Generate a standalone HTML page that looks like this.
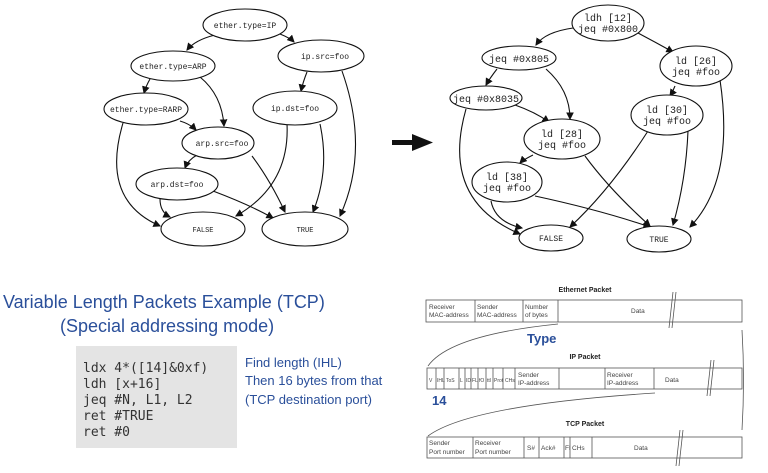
<!DOCTYPE html>
<html><head><meta charset="utf-8"><style>
html,body{margin:0;padding:0;background:#fff;}
svg{display:block}
.n{font-family:"Liberation Mono",monospace;font-size:9px;fill:#222;text-anchor:middle}
.h{font-family:"Liberation Sans",sans-serif;fill:#2a4f9a}
.s{font-family:"Liberation Sans",sans-serif;font-size:6.5px;fill:#444}
.t{font-family:"Liberation Sans",sans-serif;font-size:7px;font-weight:bold;fill:#222;text-anchor:middle}
</style></head><body>
<svg width="768" height="473" viewBox="0 0 768 473" xmlns="http://www.w3.org/2000/svg">
<defs><marker id="a" markerWidth="7" markerHeight="7" refX="6" refY="3.5" orient="auto"><path d="M0,0L7,3.5L0,7z" fill="#111"/></marker></defs>
<g fill="none" stroke="#111" stroke-width="1.1">
<g marker-end="url(#a)">
<path d="M215,35 Q195,40 187,50"/>
<path d="M280,34 Q290,38 294,42"/>
<path d="M150,79 Q146,86 144,93"/>
<path d="M200,77 Q222,95 224,126"/>
<path d="M180,121 Q190,124 196,130"/>
<path d="M307,72 Q303,82 301,91"/>
<path d="M342,71 Q370,150 340,216"/>
<path d="M197,155 Q188,160 185,168"/>
<path d="M123,123 Q100,200 160,226"/>
<path d="M160,199 Q160,212 170,217"/>
<path d="M213,191 Q250,205 273,218"/>
<path d="M252,156 Q270,180 285,212"/>
<path d="M287,124 Q290,185 236,216"/>
<path d="M320,124 Q330,170 313,212"/>
<path d="M573,28 Q545,32 536,45"/>
<path d="M638,33 Q655,42 673,52"/>
<path d="M497,69 Q490,78 486,85"/>
<path d="M546,69 Q570,90 570,119"/>
<path d="M515,105 Q535,112 549,122"/>
<path d="M675,86 Q672,93 670,96"/>
<path d="M720,80 Q735,180 690,227"/>
<path d="M533,155 Q523,160 520,163"/>
<path d="M466,109 Q440,200 520,234"/>
<path d="M491,201 Q495,222 522,228"/>
<path d="M535,196 Q600,210 650,227"/>
<path d="M585,156 Q610,190 650,226"/>
<path d="M648,131 Q610,190 570,227"/>
<path d="M688,131 Q686,180 673,225"/>
</g>
<g fill="#fff">
<ellipse cx="245" cy="25" rx="42" ry="16"/>
<ellipse cx="321" cy="56" rx="43" ry="16"/>
<ellipse cx="173" cy="66" rx="42" ry="15"/>
<ellipse cx="146" cy="109" rx="42" ry="16"/>
<ellipse cx="295" cy="108" rx="42" ry="17"/>
<ellipse cx="218" cy="143" rx="36" ry="16"/>
<ellipse cx="177" cy="184" rx="41" ry="16"/>
<ellipse cx="203" cy="229" rx="42" ry="17"/>
<ellipse cx="305" cy="229" rx="43" ry="17"/>
<ellipse cx="608" cy="23" rx="36" ry="18"/>
<ellipse cx="519" cy="58" rx="37" ry="12"/>
<ellipse cx="696" cy="66" rx="36" ry="20"/>
<ellipse cx="486" cy="98" rx="36" ry="12"/>
<ellipse cx="667" cy="115" rx="36" ry="20"/>
<ellipse cx="562" cy="139" rx="38" ry="20"/>
<ellipse cx="507" cy="182" rx="35" ry="20"/>
<ellipse cx="551" cy="238" rx="32" ry="13"/>
<ellipse cx="659" cy="239" rx="32" ry="13"/>
</g>
</g>
<g class="n">
<text x="245" y="28" font-size="8">ether.type=IP</text>
<text x="325" y="59" font-size="8">ip.src=foo</text>
<text x="173" y="69" font-size="8">ether.type=ARP</text>
<text x="146" y="112" font-size="8">ether.type=RARP</text>
<text x="295" y="111" font-size="8">ip.dst=foo</text>
<text x="222" y="146" font-size="8">arp.src=foo</text>
<text x="177" y="187" font-size="8">arp.dst=foo</text>
<text x="203" y="232" font-size="7">FALSE</text>
<text x="305" y="232" font-size="7">TRUE</text>
</g>
<g class="n">
<text x="608" y="21" font-size="10">ldh [12]</text><text x="608" y="32" font-size="10">jeq #0x800</text>
<text x="519" y="62" font-size="10">jeq #0x805</text>
<text x="696" y="64" font-size="10">ld [26]</text><text x="696" y="75" font-size="10">jeq #foo</text>
<text x="486" y="102" font-size="10">jeq #0x8035</text>
<text x="667" y="113" font-size="10">ld [30]</text><text x="667" y="124" font-size="10">jeq #foo</text>
<text x="562" y="137" font-size="10">ld [28]</text><text x="562" y="148" font-size="10">jeq #foo</text>
<text x="507" y="180" font-size="10">ld [38]</text><text x="507" y="191" font-size="10">jeq #foo</text>
<text x="551" y="241" font-size="8">FALSE</text>
<text x="659" y="242" font-size="8">TRUE</text>
</g>
<rect x="392" y="140" width="22" height="5" fill="#111"/>
<path d="M412,134 L433,142.5 L412,151z" fill="#111"/>
<text class="h" x="3" y="308" font-size="18">Variable Length Packets Example (TCP)</text>
<text class="h" x="60" y="332" font-size="18">(Special addressing mode)</text>
<rect x="76" y="346" width="161" height="102" fill="#e4e4e4"/>
<g font-family="'DejaVu Sans Mono','Liberation Mono',monospace" font-size="13" fill="#333">
<text x="83" y="372">ldx 4*([14]&amp;0xf)</text>
<text x="83" y="388">ldh [x+16]</text>
<text x="83" y="404">jeq #N, L1, L2</text>
<text x="83" y="420">ret #TRUE</text>
<text x="83" y="436">ret #0</text>
</g>
<text class="h" x="245" y="367" font-size="13">Find length (IHL)</text>
<text class="h" x="245" y="385" font-size="13">Then 16 bytes from that</text>
<text class="h" x="245" y="404" font-size="13">(TCP destination port)</text>
<g fill="none" stroke="#555" stroke-width="0.8">
<rect x="426" y="300" width="316" height="22"/>
<path d="M475,300V322M523,300V322M558,300V322"/>
<rect x="427" y="368" width="315" height="21"/>
<path d="M436,368V389M444,368V389M459,368V389M465,368V389M471,368V389M478,368V389M486,368V389M493,368V389M503,368V389M515,368V389M559,368V389M605,368V389M654,368V389"/>
<rect x="427" y="437" width="315" height="21"/>
<path d="M473,437V458M524,437V458M539,437V458M564,437V458M570,437V458M592,437V458"/>
<path d="M558,324 Q450,335 428,366"/>
<path d="M655,393 Q470,405 428,436"/>
<path d="M742,330 Q745,380 742,430"/>
<path d="M673,292 L669,328M676,292 L672,328M711,360 L707,396M714,360 L710,396M680,430 L676,466M683,430 L679,466"/>
</g>
<text class="t" x="585" y="292">Ethernet Packet</text>
<text class="t" x="585" y="359">IP Packet</text>
<text class="t" x="585" y="426">TCP Packet</text>
<g class="s">
<text x="429" y="309">Receiver</text><text x="429" y="317">MAC-address</text>
<text x="477" y="309">Sender</text><text x="477" y="317">MAC-address</text>
<text x="525" y="309">Number</text><text x="525" y="317">of bytes</text>
<text x="631" y="313">Data</text>
<g font-size="5">
<text x="429" y="382">V</text><text x="437" y="382">IHL</text><text x="446" y="382">ToS</text><text x="460" y="382">L</text><text x="466" y="382">ID</text><text x="472" y="382">FL</text><text x="479" y="382">fO</text><text x="487" y="382">ttl</text><text x="494" y="382">Prot</text><text x="505" y="382">CHs</text>
</g>
<text x="518" y="377">Sender</text><text x="518" y="385">IP-address</text>
<text x="607" y="377">Receiver</text><text x="607" y="385">IP-address</text>
<text x="665" y="382">Data</text>
<text x="429" y="445">Sender</text><text x="429" y="454">Port number</text>
<text x="475" y="445">Receiver</text><text x="475" y="454">Port number</text>
<text x="527" y="450">S#</text><text x="541" y="450">Ack#</text><text x="565" y="450">Fl</text><text x="572" y="450">CHs</text>
<text x="634" y="450">Data</text>
</g>
<text class="h" x="527" y="343" font-size="13" font-weight="bold">Type</text>
<text class="h" x="432" y="405" font-size="13" font-weight="bold">14</text>
</svg>
</body></html>
